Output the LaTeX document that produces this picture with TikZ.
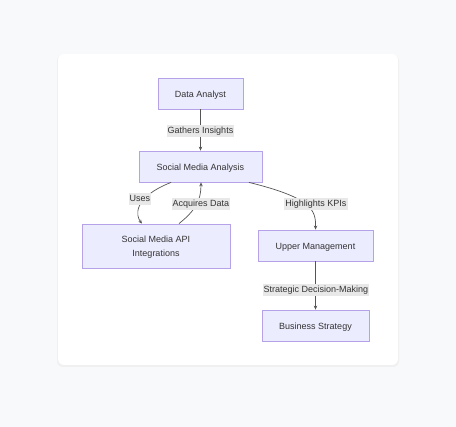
\documentclass[tikz,border=0pt]{standalone}
\usepackage{fontspec}
\setmainfont{Liberation Sans}
\usetikzlibrary{arrows.meta}
\definecolor{bgc}{HTML}{F8F9FB}
\definecolor{nodefill}{HTML}{ECECFF}
\definecolor{nodedraw}{HTML}{B6A2E8}
\definecolor{txt}{HTML}{333333}
\definecolor{edgec}{HTML}{555555}
\definecolor{lblbg}{HTML}{E8E8E8}
\begin{document}
\begin{tikzpicture}[x=1pt,y=-1pt,
  box/.style={draw=nodedraw,fill=nodefill,line width=0.8pt,inner sep=0pt,text=txt,font=\fontsize{9}{14}\selectfont,align=center,text height=8pt,text depth=0pt},
  lbl/.style={fill=lblbg,inner xsep=1pt,inner ysep=1.5pt,text=txt,font=\fontsize{9}{11}\selectfont,text height=7.5pt,text depth=1.5pt},
  edge/.style={draw=edgec,line width=0.7pt,-{Stealth[length=4pt,width=3.5pt]}}
]
\useasboundingbox (0,0) rectangle (456,427);
\fill[bgc] (0,0) rectangle (456,427);
\fill[black!6,rounded corners=6pt] (57,55) rectangle (399,367);
\fill[white,rounded corners=6pt] (58,54) rectangle (398,365);

\node[box,minimum width=85,minimum height=31] (da) at (200.5,93.5) {Data Analyst};
\node[box,minimum width=123,minimum height=31] (sma) at (200.5,166.5) {Social Media Analysis};
\node[box,minimum width=148,minimum height=44,text height=22pt] (api) at (156,246) {Social Media API\\Integrations};
\node[box,minimum width=115,minimum height=31] (upm) at (315.5,245.5) {Upper Management};
\node[box,minimum width=107,minimum height=31] (bs) at (315.5,325.5) {Business Strategy};

\draw[edge] (da) -- (sma);
\draw[edge] (upm) -- (bs);
\draw[edge] ([xshift=-29.5pt]sma.south) .. controls (132,198) and (136,216) .. ([xshift=-14pt]api.north);
\draw[edge] ([xshift=23pt]api.north) .. controls (196,210) and (201,200) .. ([xshift=0.5pt]sma.south);
\draw[edge] ([xshift=48.5pt]sma.south) .. controls (312,198) and (316,210) .. (upm.north);

\node[lbl] (l1) at (200.5,131) {Gathers Insights};
\node[lbl] (l2) at (140,199) {Uses};
\node[lbl] (l3) at (201,204) {Acquires Data};
\node[lbl] (l4) at (316,204) {Highlights KPIs};
\node[lbl] (l5) at (316,290) {Strategic Decision-Making};
\end{tikzpicture}
\end{document}
